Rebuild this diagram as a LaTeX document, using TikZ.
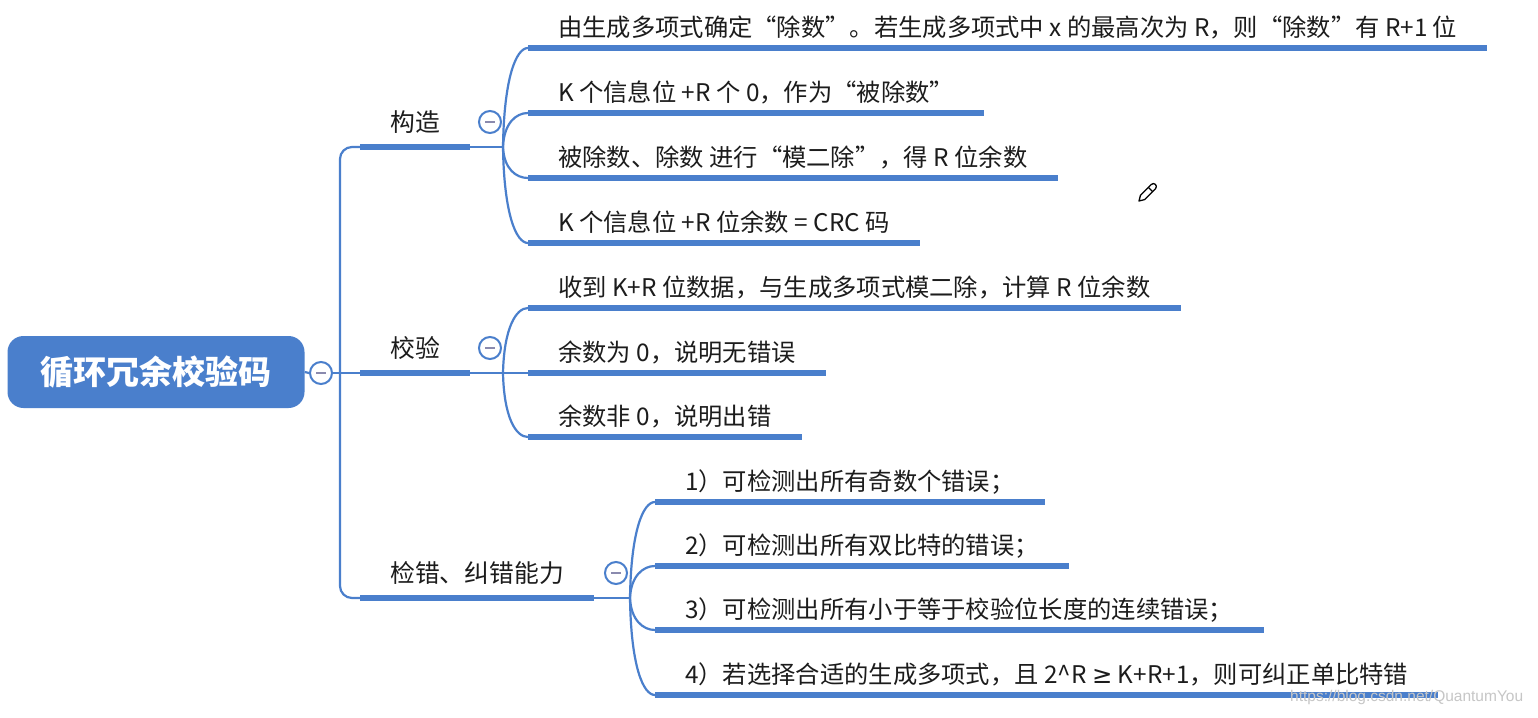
\documentclass[tikz,border=0pt]{standalone}
\usepackage{fontspec}
\setmainfont{Noto Sans CJK SC}
\newfontfamily\wmfont{Liberation Sans}
\newfontfamily\symfont{DejaVu Sans}
\usepackage{tikz}
\usetikzlibrary{positioning}
\definecolor{mmblue}{HTML}{4A7FCC}
\definecolor{minusgray}{HTML}{8A8AAE}
\definecolor{inkblack}{HTML}{1C1C1C}

\begin{document}
\begin{tikzpicture}[x=1pt,y=-1pt,
  link/.style={draw=mmblue, line width=2.2pt},
  bar/.style={draw=mmblue, line width=6pt},
  root/.style={fill=mmblue, rounded corners=16pt, minimum width=297pt, minimum height=72pt,
    text=white, font=\fontsize{33}{38}\selectfont\bfseries},
  topic/.style={anchor=south west, inner xsep=30pt, inner ysep=10pt, text height=19pt,
    text depth=5pt, font=\fontsize{24.8}{30}\selectfont, text=inkblack},
  leaf/.style={anchor=south west, inner xsep=30pt, inner ysep=6.3pt, text height=17pt,
    text depth=5pt, font=\fontsize{24.3}{28}\selectfont, text=inkblack},
  fold/.style={circle, draw=mmblue, line width=2pt, fill=white, minimum size=22pt, inner sep=0pt,
    path picture={\draw[minusgray, line width=1.6pt]
      ([xshift=-5pt]path picture bounding box.center) -- ([xshift=5pt]path picture bounding box.center);}}
]
\useasboundingbox[fill=white] (0,0) rectangle (1538,717);

% root
\node[root] (root) at (156,372) {循环冗余校验码};
\node[fold] (c0) at (321,373) {};
\coordinate (t) at (340,373);

% main topics
\node[topic] (b1) at (360,147) {构造};
\node[topic] (b2) at (360,373) {校验};
\node[topic] (b3) at (360,598) {检错、纠错能力};

\draw[link] (root.east) -- (c0.west);
\draw[link] (c0.east) -- (b2.south west);
\draw[link, rounded corners=12pt] (b1.south west) -| (t) |- (b3.south west);
\foreach \n in {b1,b2,b3}
  \draw[bar] (\n.south west) -- (\n.south east);

\coordinate (f1) at (503,147);
\coordinate (f2) at (503,373);
\coordinate (f3) at (630,598);
\draw[link] (b1.south east) -- (f1);
\draw[link] (b2.south east) -- (f2);
\draw[link] (b3.south east) -- (f3);

% leaves of 构造
\node[leaf] (l1) at (528,48) {由生成多项式确定“除数”。若生成多项式中 x 的最高次为 R，则“除数”有 R+1 位};
\node[leaf] (l2) at (528,113) {K 个信息位 +R 个 0，作为“被除数”};
\node[leaf] (l3) at (528,178) {被除数、除数 进行“模二除”，得 R 位余数};
\node[leaf] (l4) at (528,243) {K 个信息位 +R 位余数 = CRC 码};

% leaves of 校验
\node[leaf] (l5) at (528,308) {收到 K+R 位数据，与生成多项式模二除，计算 R 位余数};
\node[leaf] (l6) at (528,373) {余数为 0，说明无错误};
\node[leaf] (l7) at (528,437) {余数非 0，说明出错};

% leaves of 检错、纠错能力
\node[leaf] (l8) at (655,502) {1）可检测出所有奇数个错误；};
\node[leaf] (l9) at (655,566) {2）可检测出所有双比特的错误；};
\node[leaf] (l10) at (655,630) {3）可检测出所有小于等于校验位长度的连续错误；};
\node[leaf] (l11) at (655,695) {4）若选择合适的生成多项式，且 2\textasciicircum R {\symfont ≥} K+R+1，则可纠正单比特错};

\foreach \n in {l1,l2,l3,l4,l5,l6,l7,l8,l9,l10,l11}
  \draw[bar] (\n.south west) -- (\n.south east);

% fan connectors
\draw[link] (f1) .. controls +(1,-69) and +(-12,0) .. (l1.south west);
\draw[link] (f1) .. controls +(1,-24) and +(-12,0) .. (l2.south west);
\draw[link] (f1) .. controls +(1,22) and +(-12,0) .. (l3.south west);
\draw[link] (f1) .. controls +(1,67) and +(-12,0) .. (l4.south west);
\draw[link] (f2) .. controls +(1,-45) and +(-12,0) .. (l5.south west);
\draw[link] (f2) -- (l6.south west);
\draw[link] (f2) .. controls +(1,45) and +(-12,0) .. (l7.south west);
\draw[link] (f3) .. controls +(1,-67) and +(-12,0) .. (l8.south west);
\draw[link] (f3) .. controls +(1,-22) and +(-12,0) .. (l9.south west);
\draw[link] (f3) .. controls +(1,22) and +(-12,0) .. (l10.south west);
\draw[link] (f3) .. controls +(1,68) and +(-12,0) .. (l11.south west);

% fold buttons
\node[fold] (c1) at (490,122) {};
\node[fold] (c2) at (490,348) {};
\node[fold] (c3) at (616,573) {};

% pencil
\begin{scope}[shift={(1148,192)}]
\draw[line width=1.3pt, line join=round] (-9,9) -- (-3.4,7.6) -- (7.5,-3.3)
  arc[start angle=-45, end angle=135, radius=3pt] -- (-7.6,3.4) -- cycle;
\draw[line width=1.1pt] (4.6,-0.4) -- (0.4,-4.6);
\end{scope}

% watermark
\node[anchor=west, inner sep=0pt, font=\wmfont\fontsize{15.5}{18}\selectfont, text=gray!45] (wm) at (1290,697) {https://blog.csdn.net/QuantumYou};
\end{tikzpicture}
\end{document}
